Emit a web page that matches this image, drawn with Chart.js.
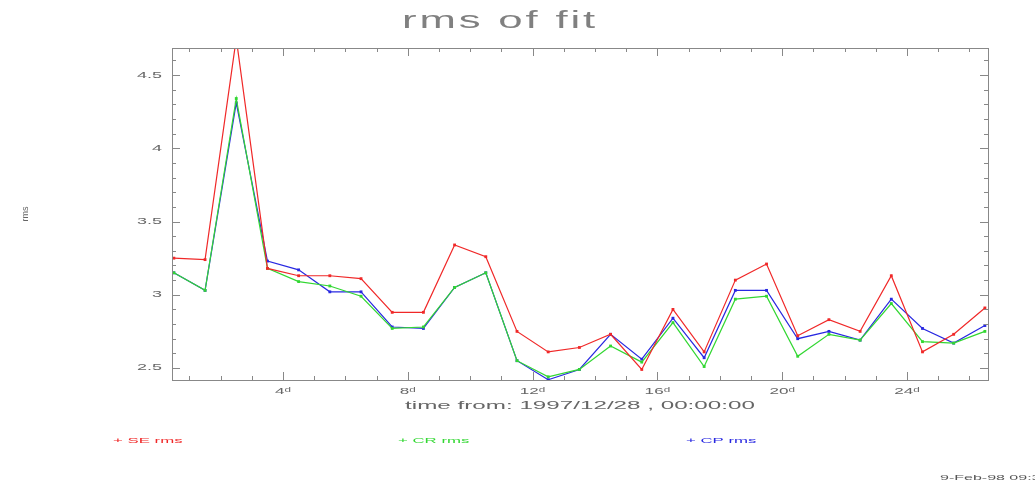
<!DOCTYPE html>
<html>
<head>
<meta charset="utf-8">
<script src="https://cdn.jsdelivr.net/npm/chart.js@4"></script>
<style>
  body { margin: 0; background: #fff; }
  #wrap { width: 1035px; height: 485px; }
</style>
</head>
<body>
<div id="wrap"><canvas id="rmsChart" width="1035" height="485"></canvas></div>
<script>
const days = [0.5, 1.5, 2.5, 3.5, 4.5, 5.5, 6.5, 7.5, 8.5, 9.5, 10.5, 11.5, 12.5, 13.5,
  14.5, 15.5, 16.5, 17.5, 18.5, 19.5, 20.5, 21.5, 22.5, 23.5, 24.5, 25.5, 26.5];
const seRms = [3.25, 3.24, 4.75, 3.18, 3.13, 3.13, 3.11, 2.88, 2.88, 3.34, 3.26, 2.75, 2.61, 2.64,
  2.73, 2.49, 2.90, 2.61, 3.10, 3.21, 2.72, 2.83, 2.75, 3.13, 2.61, 2.73, 2.91];
const crRms = [3.15, 3.03, 4.34, 3.18, 3.09, 3.06, 2.99, 2.77, 2.78, 3.05, 3.15, 2.55, 2.44, 2.49,
  2.65, 2.54, 2.81, 2.51, 2.97, 2.99, 2.58, 2.73, 2.69, 2.94, 2.68, 2.67, 2.75];
const cpRms = [3.15, 3.03, 4.31, 3.23, 3.17, 3.02, 3.02, 2.78, 2.77, 3.05, 3.15, 2.55, 2.42, 2.49,
  2.73, 2.56, 2.84, 2.57, 3.03, 3.03, 2.70, 2.75, 2.69, 2.97, 2.77, 2.67, 2.79];
const yTicks = [2.5, 3, 3.5, 4, 4.5];
const xTicks = [4, 8, 12, 16, 20, 24];
const seriesNames = ['SE rms', 'CR rms', 'CP rms'];

const RED = 'rgb(240,40,40)';
const GREEN = 'rgb(50,215,50)';
const BLUE = 'rgb(40,40,225)';
const TEXT = '#666';
const FONT = '"Liberation Sans", Arial, sans-serif';

function toPoints(vals) {
  return vals.map((v, i) => ({ x: days[i], y: v }));
}

// text in the reference is stretched sideways, so draw it with a horizontal scale
function stretchText(ctx, txt, x, y, size, color, align, sx, spacing) {
  ctx.save();
  ctx.font = size + 'px ' + FONT;
  ctx.fillStyle = color;
  ctx.textBaseline = 'middle';
  ctx.textAlign = align;
  if (spacing) ctx.letterSpacing = spacing + 'px';
  ctx.translate(x, y);
  ctx.scale(sx, 1);
  ctx.fillText(txt, 0, 0);
  ctx.restore();
}

const framePlugin = {
  id: 'frame',
  afterDraw(chart) {
    const ctx = chart.ctx;
    const a = chart.chartArea;
    const xs = chart.scales.x, ys = chart.scales.y;
    ctx.save();
    ctx.strokeStyle = '#888';
    ctx.lineWidth = 1;
    ctx.strokeRect(a.left + 0.5, a.top + 0.5, a.right - a.left, a.bottom - a.top);

    ctx.beginPath();
    // y minor ticks every 0.1, major at labels
    for (let k = 25; k <= 46; k++) {
      const v = k / 10;
      const py = Math.round(ys.getPixelForValue(v)) + 0.5;
      const len = (k % 5 === 0) ? 8 : 4;
      ctx.moveTo(a.left, py); ctx.lineTo(a.left + len, py);
      ctx.moveTo(a.right, py); ctx.lineTo(a.right - len, py);
    }
    // x minor ticks every day
    for (let d = 1; d <= 26; d++) {
      const px = Math.round(xs.getPixelForValue(d)) + 0.5;
      const len = (d % 4 === 0) ? 8 : 4;
      ctx.moveTo(px, a.bottom); ctx.lineTo(px, a.bottom - len);
      ctx.moveTo(px, a.top); ctx.lineTo(px, a.top + len);
    }
    ctx.stroke();
    ctx.restore();

    yTicks.forEach(v => {
      stretchText(ctx, String(v), a.left - 10, ys.getPixelForValue(v), 9, TEXT, 'right', 2.0);
    });
    xTicks.forEach(v => {
      stretchText(ctx, v + 'ᵈ', xs.getPixelForValue(v), a.bottom + 12, 9, TEXT, 'center', 1.9);
    });

    stretchText(ctx, 'rms of fit', 500, 22, 23, '#808080', 'center', 1.9, 1.5);
    stretchText(ctx, 'time from: 1997/12/28 , 00:00:00', 580, 406, 11, TEXT, 'center', 2.2);

    ctx.save();
    ctx.font = '9px ' + FONT;
    ctx.fillStyle = TEXT;
    ctx.textAlign = 'center';
    ctx.textBaseline = 'middle';
    ctx.translate(26, 214);
    ctx.rotate(-Math.PI / 2);
    ctx.fillText('rms', 0, 0);
    ctx.restore();

    const legendX = [113, 398, 686];
    const legendCol = [RED, GREEN, BLUE];
    seriesNames.forEach((n, i) => {
      stretchText(ctx, '+ ' + n, legendX[i], 441, 8, legendCol[i], 'left', 2.1);
    });

    stretchText(ctx, '9-Feb-98 09:36', 940, 478, 8, '#555', 'left', 2.0);
  }
};

const ctx = document.getElementById('rmsChart').getContext('2d');
const chart = new Chart(ctx, {
  type: 'line',
  data: {
    datasets: [
      { label: seriesNames[0], data: toPoints(seRms), borderColor: RED, backgroundColor: RED },
      { label: seriesNames[1], data: toPoints(crRms), borderColor: GREEN, backgroundColor: GREEN },
      { label: seriesNames[2], data: toPoints(cpRms), borderColor: BLUE, backgroundColor: BLUE }
    ]
  },
  options: {
    responsive: false,
    animation: false,
    events: [],
    layout: { padding: { top: 48, right: 47, left: 0, bottom: 0 } },
    elements: {
      line: { borderWidth: 1.2, tension: 0 },
      point: { pointStyle: 'rect', radius: 2, borderWidth: 0 }
    },
    plugins: {
      legend: { display: false },
      title: { display: false },
      tooltip: { enabled: false }
    },
    scales: {
      x: {
        type: 'linear',
        min: 0.44,
        max: 26.6,
        grid: { display: false },
        border: { display: false },
        ticks: { display: false },
        afterBuildTicks: s => { s.ticks = xTicks.map(v => ({ value: v })); },
        afterFit: s => { s.height = 105; }
      },
      y: {
        min: 2.418,
        max: 4.685,
        grid: { display: false },
        border: { display: false },
        ticks: { display: false },
        afterBuildTicks: s => { s.ticks = yTicks.map(v => ({ value: v })); },
        afterFit: s => { s.width = 172; }
      }
    }
  },
  plugins: [framePlugin]
});
</script>
</body>
</html>
